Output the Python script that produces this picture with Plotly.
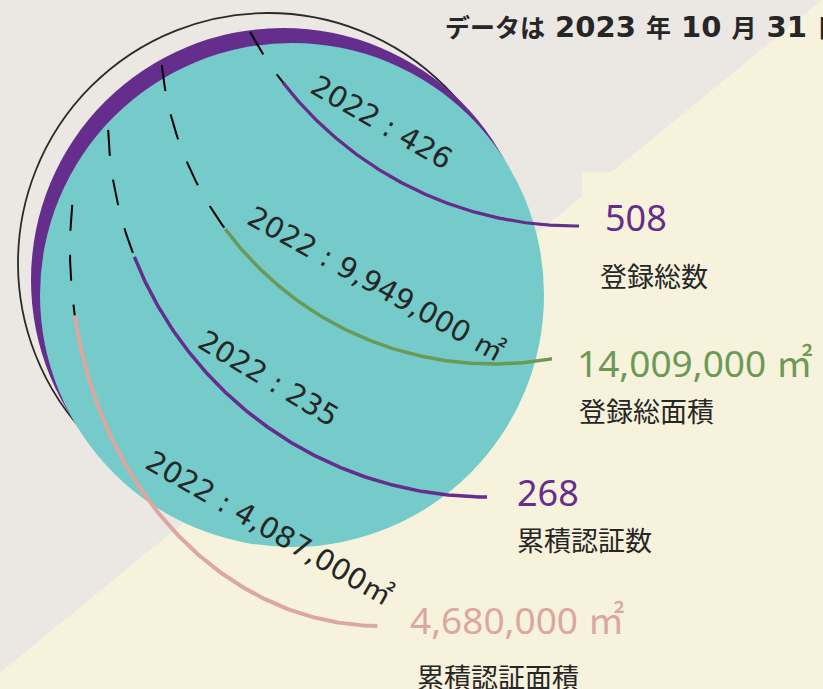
import numpy as np
import plotly.graph_objects as go

# ---------------- data ----------------
categories = ["登録総数", "登録総面積", "累積認証数", "累積認証面積"]
values_2023 = [508, 14009000, 268, 4680000]
values_2022 = [426, 9949000, 235, 4087000]
units_2023 = ["", " ㎡", "", " ㎡"]
units_2022 = ["", " ㎡", "", "㎡"]
prev_year = "2022"
date_parts = ["データは", "2023", "年", "10", "月", "31", "日時点"]

# ---------------- style ----------------
W, H = 823, 689
GREY = "#ebe7e2"
CREAM = "#f7f2dc"
TEAL = "#74cbc9"
PURPLE = "#652d8c"
GREEN = "#6a9a55"
PINK = "#dca7a0"
DARK = "#262626"
series_colors = [PURPLE, GREEN, PURPLE, PINK]

# arc geometry: centre, radii, track start angle, value start angle, end angle (deg)
ARCS = [
    dict(cx=575, cy=-143, rx=369, ry=369, t0=151.7, v0=142.3, t1=89.4, w=3.2),
    dict(cx=493, cy=31, rx=333, ry=333, t0=174.1, v0=143.5, t1=79.8, w=3.5),
    dict(cx=487, cy=118, rx=379, ry=379, t0=178.2, v0=158.5, t1=90.0, w=3.5),
    dict(cx=380, cy=250, rx=310, ry=376, t0=186.9, v0=170.0, t1=90.5, w=4.0),
]
VALUE_POS = [(603, 217, 36), (575, 362, 37), (515, 492, 36), (408, 619, 37)]
CAT_POS = [(598, 275), (577, 410), (515, 539), (415, 676)]
PREV_POS = [(381, 122, 29), (376, 284, 29), (268, 378, 29), (269, 528, 29)]
PREV_ANGLE = [30, 29, 31, 30]


def arc_pts(g, a0, a1, n=200):
    t = np.radians(np.linspace(a0, a1, n))
    return g["cx"] + g["rx"] * np.cos(t), g["cy"] + g["ry"] * np.sin(t)


fig = go.Figure()

shapes = []
# background split
shapes.append(dict(type="path", layer="below", line=dict(width=0), fillcolor=CREAM,
                   path="M 822,0 L 840,0 L 840,700 L -10,700 L -10,681 Z"))
shapes.append(dict(type="rect", layer="below", line=dict(width=0), fillcolor=CREAM,
                   x0=582, y0=172, x1=840, y1=260))
# outer outline circle, purple crescent, teal globe
shapes.append(dict(type="circle", layer="below", line=dict(color="#2a2a2a", width=1.8),
                   fillcolor="rgba(0,0,0,0)", x0=268 - 250, x1=268 + 250, y0=263 - 250, y1=263 + 250))
shapes.append(dict(type="circle", layer="below", line=dict(width=0), fillcolor=PURPLE,
                   x0=283 - 252, x1=283 + 252, y0=280 - 252, y1=280 + 252))
shapes.append(dict(type="circle", layer="below", line=dict(width=0), fillcolor=TEAL,
                   x0=292 - 252, x1=292 + 252, y0=295 - 252, y1=295 + 252))

# arcs
for g, col in zip(ARCS, series_colors):
    x, y = arc_pts(g, g["t0"], g["t1"])
    fig.add_trace(go.Scatter(x=x, y=y, mode="lines", hoverinfo="skip",
                             line=dict(color="black", width=2, dash="26px,24px")))
for g, col in zip(ARCS, series_colors):
    x, y = arc_pts(g, g["v0"], g["t1"])
    fig.add_trace(go.Scatter(x=x, y=y, mode="lines", hoverinfo="skip",
                             line=dict(color=col, width=g["w"])))

ann = []
# title: digits/spaces in a wide bold face, kana/kanji slightly smaller
title_html = " ".join(
    (p if p.isdigit() else f"<span style='font-size:25px'>{p}</span>") for p in date_parts
)
ann.append(dict(x=443, y=27, xanchor="left", yanchor="middle", showarrow=False,
                text="<b>" + title_html + "</b>",
                font=dict(family="DejaVu Sans, Noto Sans CJK JP", size=29, color=DARK)))
for i in range(4):
    v = f"{values_2023[i]:,}{units_2023[i]}"
    x, y, s = VALUE_POS[i]
    ann.append(dict(x=x, y=y, xanchor="left", yanchor="middle", showarrow=False, text=v,
                    font=dict(family="Noto Sans, Noto Sans CJK JP", size=s, color=series_colors[i])))
    cx, cy = CAT_POS[i]
    ann.append(dict(x=cx, y=cy, xanchor="left", yanchor="middle", showarrow=False, text=categories[i],
                    font=dict(family="Noto Sans CJK JP", size=27, color=DARK)))
    px, py, ps = PREV_POS[i]
    p = f"{prev_year} : {values_2022[i]:,}{units_2022[i]}"
    ann.append(dict(x=px, y=py, xanchor="center", yanchor="middle", showarrow=False, text=p,
                    textangle=PREV_ANGLE[i],
                    font=dict(family="DejaVu Sans, Noto Sans CJK JP", size=ps, color=DARK)))

fig.update_layout(
    width=W, height=H, margin=dict(l=0, r=0, t=0, b=0),
    paper_bgcolor=GREY, plot_bgcolor=GREY, showlegend=False,
    xaxis=dict(range=[0, W], visible=False, fixedrange=True),
    yaxis=dict(range=[H, 0], visible=False, fixedrange=True),
    shapes=shapes, annotations=ann,
)
fig.write_html("out.html", config={"displayModeBar": False},
               post_script="document.body.style.margin='0';document.body.style.overflow='hidden';")
